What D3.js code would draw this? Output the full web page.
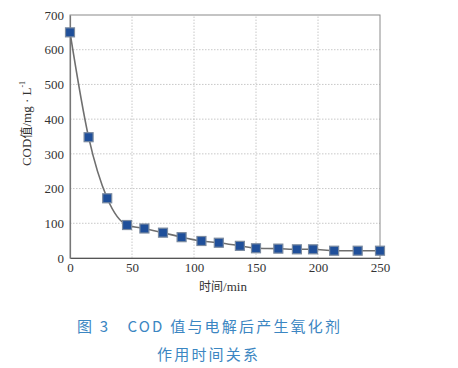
<!DOCTYPE html>
<html><head><meta charset="utf-8">
<script src="https://cdn.jsdelivr.net/npm/d3@7"></script>
<style>body{margin:0;background:#fff}svg{display:block}</style>
</head><body>
<script>
const times = [0, 15, 30, 46, 60, 75, 90, 106, 120, 137, 150, 168, 183, 196, 213, 232, 250];
const cod   = [650, 348, 172, 95, 85, 73, 60, 49, 44, 35, 28, 27, 25, 25, 21, 21, 21];
const xTicks = [0, 50, 100, 150, 200, 250];
const yTicks = [0, 100, 200, 300, 400, 500, 600, 700];
const captionLines = ["图 3\u3000COD 值与电解后产生氧化剂", "作用时间关系"];

const W = 458, H = 368;
const m = {l: 70, r: 78, t: 15, b: 110};
const svg = d3.select("body").append("svg").attr("width", W).attr("height", H);
const x = d3.scaleLinear().domain([0, 250]).range([m.l, W - m.r]);
const y = d3.scaleLinear().domain([0, 700]).range([H - m.b, m.t]);

// grid
svg.append("g").selectAll("line").data(xTicks.slice(1, -1)).join("line")
  .attr("x1", d => x(d)).attr("x2", d => x(d)).attr("y1", y(0)).attr("y2", y(700))
  .attr("stroke", "#c8c8c8").attr("stroke-dasharray", "1.5,1.5").attr("stroke-width", 1);
svg.append("g").selectAll("line").data(yTicks.slice(1, -1)).join("line")
  .attr("x1", x(0)).attr("x2", x(250)).attr("y1", d => y(d)).attr("y2", d => y(d))
  .attr("stroke", "#c8c8c8").attr("stroke-dasharray", "1.5,1.5").attr("stroke-width", 1);

// frame
svg.append("rect").attr("x", x(0)).attr("y", y(700)).attr("width", x(250) - x(0)).attr("height", y(0) - y(700))
  .attr("fill", "none").attr("stroke", "#8a8a8a").attr("stroke-width", 1);

// axes
const font = "'Liberation Serif','Times New Roman',serif";
const xa = svg.append("g").attr("transform", `translate(0,${y(0)})`)
  .call(d3.axisBottom(x).tickValues(xTicks).tickSize(0).tickPadding(5));
const ya = svg.append("g").attr("transform", `translate(${x(0)},0)`)
  .call(d3.axisLeft(y).tickValues(yTicks).tickSize(0).tickPadding(6));
[xa, ya].forEach(a => {
  a.select(".domain").attr("stroke", "#555").attr("stroke-width", 1.2);
  a.selectAll("text").attr("font-family", font).attr("font-size", 13).attr("fill", "#333");
});
ya.select(".domain").attr("stroke", "#777");

// line
const data = times.map((t, i) => ({t, v: cod[i]}));
svg.append("path").datum(data)
  .attr("d", d3.line().x(d => x(d.t)).y(d => y(d.v)).curve(d3.curveMonotoneX))
  .attr("fill", "none").attr("stroke", "#6f6f6f").attr("stroke-width", 1.6);

// markers
const s = 9;
svg.append("g").selectAll("rect").data(data).join("rect")
  .attr("x", d => x(d.t) - s / 2).attr("y", d => y(d.v) - s / 2)
  .attr("width", s).attr("height", s)
  .attr("fill", "#1f4f9a").attr("stroke", "#7a8aa0").attr("stroke-width", 1.2);

// axis titles
svg.append("text").attr("x", x(125) - 2).attr("y", 291).attr("text-anchor", "middle")
  .attr("font-family", "'Noto Sans CJK SC', serif").attr("font-size", 12).attr("fill", "#333")
  .html('时间<tspan font-family="' + font.replace(/'/g, "") + '" font-size="13">/min</tspan>');

const yl = svg.append("text").attr("transform", `translate(31,${(y(0) + y(700)) / 2 - 13}) rotate(-90)`)
  .attr("text-anchor", "middle").attr("font-family", font).attr("font-size", 13).attr("fill", "#333");
yl.append("tspan").text("COD");
yl.append("tspan").attr("font-family", "'Noto Sans CJK SC'").attr("font-size", 12).text("值");
yl.append("tspan").text("/mg · L");
yl.append("tspan").attr("font-size", 8).attr("dy", -6).text("-1");

// caption
svg.append("text").attr("x", 77).attr("y", 332)
  .attr("font-family", "'Noto Sans CJK SC', serif").attr("font-size", 15).attr("fill", "#3b86c2")
  .attr("letter-spacing", 2.2).text(captionLines[0]);
svg.append("text").attr("x", 157).attr("y", 360)
  .attr("font-family", "'Noto Sans CJK SC', serif").attr("font-size", 15).attr("fill", "#3b86c2")
  .attr("letter-spacing", 2.2).text(captionLines[1]);
</script>
</body></html>
